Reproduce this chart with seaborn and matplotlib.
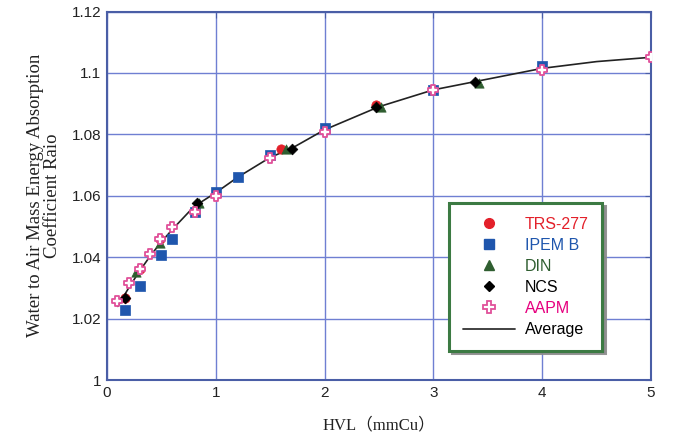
import matplotlib
matplotlib.use("Agg")
import matplotlib.pyplot as plt
import seaborn as sns
import pandas as pd
from matplotlib.lines import Line2D

# ---- data ----
avg_hvl = [0.1, 0.2, 0.3, 0.4, 0.5, 0.6, 0.8, 1.0, 1.2, 1.5, 1.7, 2.0, 2.5, 3.0, 3.5, 4.0, 4.5, 5.0]
avg_ratio = [1.0240, 1.0300, 1.0355, 1.0405, 1.0450, 1.0490, 1.0565, 1.0610, 1.0660, 1.0725,
             1.0755, 1.0815, 1.0890, 1.0945, 1.0980, 1.1015, 1.1037, 1.1051]

trs_hvl = [0.17, 0.30, 0.49, 1.60, 2.47]
trs_ratio = [1.0267, 1.0362, 1.0460, 1.0752, 1.0895]

ipem_hvl = [0.17, 0.30, 0.50, 0.60, 0.81, 1.00, 1.20, 1.50, 2.00, 3.00, 4.00]
ipem_ratio = [1.0228, 1.0306, 1.0408, 1.0458, 1.0548, 1.0612, 1.0662, 1.0733, 1.0822, 1.0945, 1.1024]

din_hvl = [0.27, 0.49, 0.85, 1.65, 2.52, 3.42]
din_ratio = [1.0352, 1.0445, 1.0575, 1.0752, 1.0888, 1.0968]

ncs_hvl = [0.17, 0.83, 1.70, 2.47, 3.38]
ncs_ratio = [1.0268, 1.0578, 1.0753, 1.0888, 1.0972]

aapm_hvl = [0.09, 0.20, 0.30, 0.40, 0.49, 0.60, 0.81, 1.00, 1.50, 2.00, 3.00, 4.00, 5.00]
aapm_ratio = [1.0257, 1.0316, 1.0362, 1.0412, 1.0459, 1.0500, 1.0548, 1.0598, 1.0722, 1.0807,
              1.0945, 1.1010, 1.1051]

x_ticks = [0, 1, 2, 3, 4, 5]
y_ticks = [1.0, 1.02, 1.04, 1.06, 1.08, 1.10, 1.12]
y_ticklabels = ["1", "1.02", "1.04", "1.06", "1.08", "1.1", "1.12"]

sns.set_style("white")
plt.rcParams["font.family"] = ["Liberation Sans", "DejaVu Sans"]

fig = plt.figure(figsize=(6.81, 4.43), dpi=100)
ax = fig.add_axes([0.157, 0.142, 0.799, 0.832])

grid_c = "#6f7fd2"
spine_c = "#4a5ea6"

RED = "#e3202a"
BLUE = "#1f56ad"
GREEN = "#2f5e30"
PINK = "#e6007e"

avg_df = pd.DataFrame({"hvl": avg_hvl, "ratio": avg_ratio})
sns.lineplot(data=avg_df, x="hvl", y="ratio", ax=ax, color="#222222", lw=1.2, zorder=3)

sns.scatterplot(x=ipem_hvl, y=ipem_ratio, ax=ax, marker="s", s=60, color=BLUE,
                edgecolor=BLUE, linewidth=0.5, zorder=4)
sns.scatterplot(x=trs_hvl, y=trs_ratio, ax=ax, marker="o", s=45, color=RED,
                edgecolor=RED, linewidth=0.5, zorder=5)
sns.scatterplot(x=din_hvl, y=din_ratio, ax=ax, marker="^", s=45, color=GREEN,
                edgecolor=GREEN, linewidth=0.5, zorder=5)
sns.scatterplot(x=ncs_hvl, y=ncs_ratio, ax=ax, marker="D", s=30, color="black",
                edgecolor="black", linewidth=0.5, zorder=6)
sns.scatterplot(x=aapm_hvl, y=aapm_ratio, ax=ax, marker="P", s=60, color="white",
                edgecolor="#e0509a", linewidth=1.3, zorder=7)

ax.set_xlim(0, 5)
ax.set_ylim(1.0, 1.12)
ax.set_xticks(x_ticks)
ax.set_yticks(y_ticks)
ax.set_yticklabels(y_ticklabels)
ax.grid(True, color=grid_c, lw=1.0)
ax.set_axisbelow(True)
for sp in ax.spines.values():
    sp.set_color(spine_c)
    sp.set_linewidth(1.5)
ax.tick_params(axis="both", direction="in", length=4, color=spine_c, labelsize=11,
               labelcolor="#222222", top=True, right=True, pad=4)

ax.set_xlabel("HVL（mmCu）", family=["Liberation Serif", "Noto Sans CJK JP"], fontsize=12,
              labelpad=13, color="#222222")
ax.set_ylabel("Water to Air Mass Energy Absorption\nCoefficient Raio", family=["Liberation Serif"],
              fontsize=13.5, labelpad=8, color="#222222", linespacing=1.0)

handles = [
    Line2D([], [], ls="", marker="o", ms=7, color=RED),
    Line2D([], [], ls="", marker="s", ms=7, color=BLUE),
    Line2D([], [], ls="", marker="^", ms=7, color=GREEN),
    Line2D([], [], ls="", marker="D", ms=5.5, color="black"),
    Line2D([], [], ls="", marker="P", ms=8, mfc="white", mec="#e0509a", mew=1.3),
    Line2D([], [], color="#333333", lw=1.3),
]
labels = ["TRS-277", "IPEM B", "DIN", "NCS", "AAPM", "Average"]
colors = [RED, BLUE, GREEN, "black", PINK, "black"]
leg = ax.legend(handles, labels, loc="upper left", bbox_to_anchor=(0.629, 0.48),
                frameon=True, fancybox=False, shadow={"color": "#8a8a8a", "alpha": 0.9},
                fontsize=11.5, handlelength=3.3, handletextpad=0.6, labelspacing=0.38,
                borderpad=0.85, borderaxespad=0)
leg.get_frame().set_edgecolor("#3c7a43")
leg.get_frame().set_linewidth(2.2)
leg.get_frame().set_facecolor("white")
leg.get_frame().set_alpha(1)
for t, c in zip(leg.get_texts(), colors):
    t.set_color(c)

fig.savefig("out.png", dpi=100)
